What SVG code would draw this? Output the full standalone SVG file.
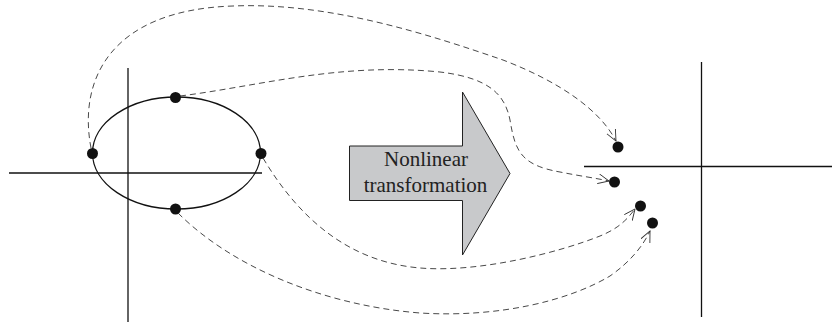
<svg xmlns="http://www.w3.org/2000/svg" width="832" height="326" viewBox="0 0 832 326">
<style>
.ax{stroke:#111;stroke-width:1.3;fill:none}
.dot{fill:#111}
.con{stroke:#333;stroke-width:0.9;fill:none;stroke-dasharray:6,4;marker-end:url(#ah)}
.lbl{font-family:"Liberation Serif","Times New Roman",serif;font-size:21px;fill:#222;text-anchor:middle}
</style>
<defs>
<marker id="ah" markerUnits="userSpaceOnUse" markerWidth="14" markerHeight="12" refX="11" refY="5" orient="auto" viewBox="0 0 14 12">
<path d="M0,0 L11,5 L0,10" fill="none" stroke="#333" stroke-width="0.9"/>
</marker>
</defs>
<rect width="832" height="326" fill="#fff"/>
<g id="input-plane">
<line class="ax" x1="128" y1="68" x2="128" y2="322"/>
<line class="ax" x1="9" y1="173" x2="262" y2="173"/>
<ellipse class="ax" cx="176.5" cy="153" rx="84" ry="56" stroke-width="1.6"/>
</g>
<g id="p-left"><circle class="dot" cx="92.5" cy="153.5" r="5.5"/></g>
<g id="p-right"><circle class="dot" cx="261" cy="153.5" r="5.5"/></g>
<g id="p-top"><circle class="dot" cx="175.5" cy="97.5" r="5.5"/></g>
<g id="p-bottom"><circle class="dot" cx="175.5" cy="209" r="5.5"/></g>
<g id="transform-arrow">
<polygon points="349.5,146 462.5,146 462.5,92 510,173.5 462.5,255 462.5,200.5 349.5,200.5" fill="#c8c9cb" stroke="#222" stroke-width="1"/>
<text class="lbl" x="426" y="166">Nonlinear</text>
<text class="lbl" x="425.5" y="191.5">transformation</text>
</g>
<g id="output-plane">
<line class="ax" x1="701.5" y1="62" x2="701.5" y2="317"/>
<line class="ax" x1="584" y1="166.5" x2="832" y2="166.5"/>
</g>
<g id="q1"><circle class="dot" cx="618" cy="147" r="5.5"/></g>
<g id="q2"><circle class="dot" cx="614.5" cy="182" r="5.5"/></g>
<g id="q3"><circle class="dot" cx="640.5" cy="206" r="5.5"/></g>
<g id="q4"><circle class="dot" cx="652.5" cy="223" r="5.5"/></g>
<g id="connectors">
<path class="con" d="M91,148 C78,80 110,10 233,6 C330,2 430,35 503,60 C560,82 600,110 616,141"/>
<path class="con" d="M180,96 C260,86 340,62 440,72 C490,78 505,95 510,120 C515,150 520,165 560,172 C580,176 595,178 609,181"/>
<path class="con" d="M263,158 C300,220 350,262 420,268 C480,273 560,252 600,236 C620,228 628,218 635,209"/>
<path class="con" d="M178,213 C230,265 320,305 420,313 C500,318 570,300 610,276 C630,262 643,246 650,231"/>
</g>
</svg>
